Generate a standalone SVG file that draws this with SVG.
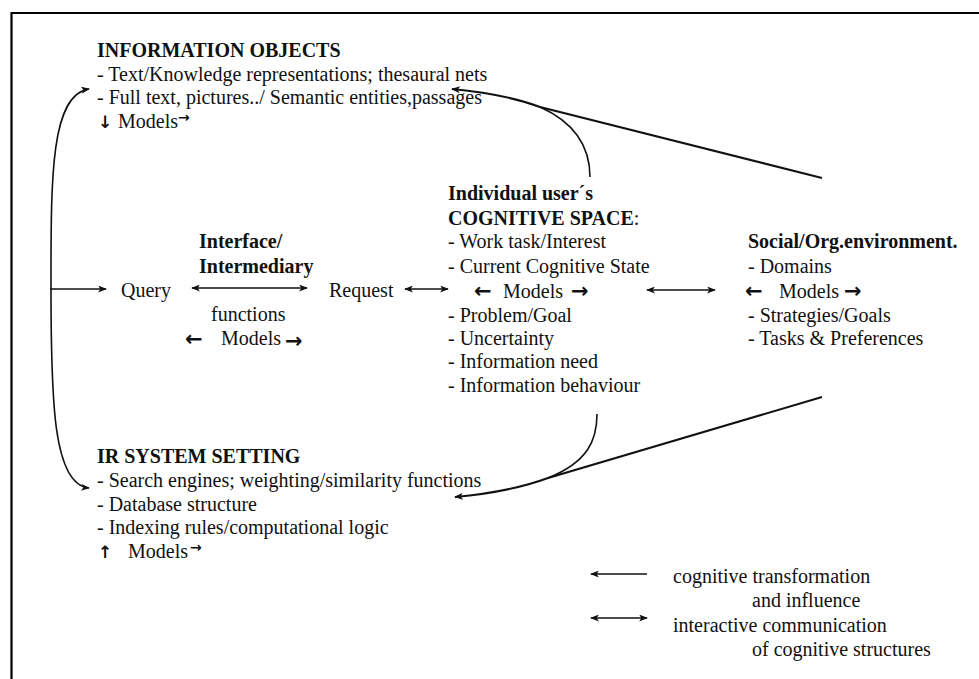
<svg xmlns="http://www.w3.org/2000/svg" width="979" height="679" viewBox="0 0 979 679">
  <style>
    text { font-family: "Liberation Serif", "Times New Roman", serif; font-size: 20px; fill: #111; }
    .b { font-weight: bold; }
    .arr { font-family: "DejaVu Sans", sans-serif; font-size: 21px; font-weight: bold; }
    .vert { font-family: "DejaVu Sans", sans-serif; font-size: 17px; font-weight: bold; }
    .sup { font-family: "DejaVu Sans", sans-serif; font-size: 14px; font-weight: bold; }
    .ln { fill: none; stroke: #111; stroke-width: 1.6; }
    .lnb { fill: none; stroke: #111; stroke-width: 2; }
  </style>
  <defs>
    <marker id="ah" viewBox="0 0 10 8" refX="9" refY="4" markerWidth="9" markerHeight="7" orient="auto-start-reverse" markerUnits="userSpaceOnUse">
      <path d="M0,0 L10,4 L0,8 L2.5,4 Z" fill="#111"/>
    </marker>
  </defs>

  <rect width="979" height="679" fill="#fff"/>

  <!-- frame -->
  <path d="M11.5,679 L11.5,13 L979,13" fill="none" stroke="#000" stroke-width="2.2"/>

  <g id="information-objects">
    <text class="b" x="97" y="57">INFORMATION OBJECTS</text>
    <text x="97" y="81">- Text/Knowledge representations; thesaural nets</text>
    <text x="97" y="104">- Full text, pictures../ Semantic entities,passages</text>
    <text class="vert" x="98" y="128">↓</text>
    <text x="118" y="128">Models</text>
    <text class="sup" x="178" y="122">→</text>
  </g>

  <g id="query">
    <text x="121" y="297">Query</text>
  </g>

  <g id="interface">
    <text class="b" x="199" y="248">Interface/</text>
    <text class="b" x="199" y="273">Intermediary</text>
    <text x="211" y="321">functions</text>
    <text class="arr" x="185" y="346">←</text>
    <text x="221" y="345">Models</text>
    <text class="arr" x="285" y="348">→</text>
  </g>

  <g id="request">
    <text x="329" y="297">Request</text>
  </g>

  <g id="cognitive-space">
    <text class="b" x="448" y="200">Individual user´s</text>
    <text class="b" x="448" y="225">COGNITIVE SPACE<tspan font-weight="normal">:</tspan></text>
    <text x="448" y="248">- Work task/Interest</text>
    <text x="448" y="273">- Current Cognitive State</text>
    <text class="arr" x="474" y="298">←</text>
    <text x="503" y="298">Models</text>
    <text class="arr" x="571" y="298">→</text>
    <text x="448" y="322">- Problem/Goal</text>
    <text x="448" y="345">- Uncertainty</text>
    <text x="448" y="368">- Information need</text>
    <text x="448" y="392">- Information behaviour</text>
  </g>

  <g id="social-environment">
    <text class="b" x="748" y="248">Social/Org.environment.</text>
    <text x="748" y="273">- Domains</text>
    <text class="arr" x="745" y="298">←</text>
    <text x="779" y="298">Models</text>
    <text class="arr" x="844" y="298">→</text>
    <text x="748" y="322">- Strategies/Goals</text>
    <text x="748" y="345">- Tasks &amp; Preferences</text>
  </g>

  <g id="ir-system-setting">
    <text class="b" x="97" y="463">IR SYSTEM SETTING</text>
    <text x="97" y="487">- Search engines; weighting/similarity functions</text>
    <text x="97" y="511">- Database structure</text>
    <text x="97" y="534">- Indexing rules/computational logic</text>
    <text class="vert" x="98" y="558">↑</text>
    <text x="128" y="558">Models</text>
    <text class="sup" x="190" y="552">→</text>
  </g>

  <g id="legend">
    <line class="ln" x1="647" y1="574" x2="591" y2="574" marker-end="url(#ah)"/>
    <text x="673" y="583">cognitive transformation</text>
    <text x="752" y="607">and influence</text>
    <line class="ln" x1="591" y1="618" x2="647" y2="618" marker-start="url(#ah)" marker-end="url(#ah)"/>
    <text x="673" y="632">interactive communication</text>
    <text x="752" y="656">of cognitive structures</text>
  </g>

  <g id="connectors">
    <!-- left bracket feeding both system sides -->
    <path class="ln" d="M51,289 C51,180 50,95 89,89" marker-end="url(#ah)"/>
    <path class="ln" d="M51,289 C51,400 53,485 89,488" marker-end="url(#ah)"/>
    <line class="ln" x1="50" y1="289" x2="106" y2="289" marker-end="url(#ah)"/>
    <!-- interactive links across the middle row -->
    <line class="ln" x1="192" y1="288" x2="307" y2="288" marker-start="url(#ah)" marker-end="url(#ah)"/>
    <line class="ln" x1="405" y1="289" x2="448" y2="289" marker-start="url(#ah)" marker-end="url(#ah)"/>
    <line class="ln" x1="647" y1="290" x2="715" y2="290" marker-start="url(#ah)" marker-end="url(#ah)"/>
    <!-- influence towards information objects -->
    <path class="lnb" d="M822,178 L540,107 Q505,94 452,89" marker-end="url(#ah)"/>
    <path class="ln" d="M590,177 C590,150 578,124 540,107"/>
    <!-- influence towards IR system setting -->
    <path class="lnb" d="M822,397 L548,478 Q510,492 455,497" marker-end="url(#ah)"/>
    <path class="ln" d="M597,414 C597,440 588,462 548,478"/>
  </g>
</svg>
